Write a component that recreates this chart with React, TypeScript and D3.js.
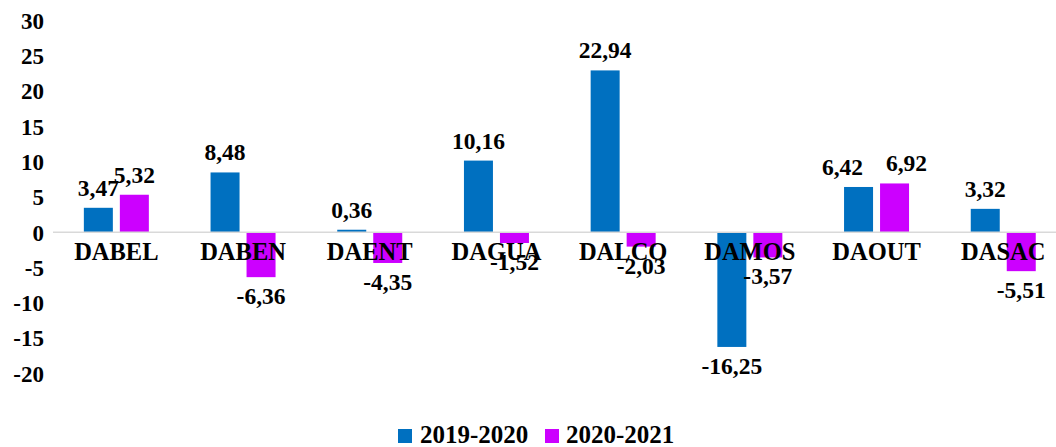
import React from 'react';
import * as d3 from 'd3';

const categories = ['DABEL', 'DABEN', 'DAENT', 'DAGUA', 'DALCO', 'DAMOS', 'DAOUT', 'DASAC'];
const series = ['2019-2020', '2020-2021'];
const values2019 = [3.47, 8.48, 0.36, 10.16, 22.94, -16.25, 6.42, 3.32];
const values2020 = [5.32, -6.36, -4.35, -1.52, -2.03, -3.57, 6.92, -5.51];
const yTicks = [-20, -15, -10, -5, 0, 5, 10, 15, 20, 25, 30];
const colors = ['#0070C0', '#CC00FF'];

const width = 1056;
const height = 447;
const font = '"Liberation Serif", "Times New Roman", serif';

export default function App() {
    const x = d3.scaleBand<string>()
        .domain(categories)
        .range([53, 1066.6])
        .paddingInner(0.487)
        .paddingOuter(0.2435);

    const xInner = d3.scaleBand<string>()
        .domain(series)
        .range([0, x.bandwidth()])
        .paddingInner(7 / 36);

    const y = d3.scaleLinear()
        .domain([-20, 30])
        .range([373.4, 20.6]);

    const allSeries = [values2019, values2020];
    const fmt = (v: number) => v.toFixed(2).replace('.', ',');

    // labels over DAOUT were pulled apart by hand in the original
    const nudge = (cat: string, si: number) => (cat === 'DAOUT' ? (si === 0 ? -16 : 12) : 0);

    return (
        <svg width={width} height={height} style={{ position: 'absolute', left: 0, top: 0, background: '#fff' }}
            fontFamily={font} fontWeight="bold">
            {/* y tick labels */}
            {yTicks.map(t => (
                <text key={t} x={44} y={y(t)} dy="0.36em" textAnchor="end" fontSize={23}>{t}</text>
            ))}

            {/* bars */}
            {allSeries.map((vals, si) => vals.map((v, i) => {
                const bx = (x(categories[i]) ?? 0) + (xInner(series[si]) ?? 0);
                return (
                    <rect key={`${si}-${i}`} x={bx} width={xInner.bandwidth()}
                        y={Math.min(y(v), y(0))} height={Math.abs(y(v) - y(0))} fill={colors[si]} />
                );
            }))}

            {/* zero line */}
            <line x1={53} x2={width} y1={y(0)} y2={y(0)} stroke="#d9d9d9" strokeWidth={1.5} />

            {/* category labels */}
            {categories.map(c => (
                <text key={c} x={(x(c) ?? 0) + x.bandwidth() / 2} y={260} textAnchor="middle" fontSize={24.5}>{c}</text>
            ))}

            {/* value labels */}
            {allSeries.map((vals, si) => vals.map((v, i) => {
                const cx = (x(categories[i]) ?? 0) + (xInner(series[si]) ?? 0) + xInner.bandwidth() / 2
                    + nudge(categories[i], si);
                const ty = v >= 0 ? y(v) - 12 : y(v) + 27;
                return (
                    <text key={`l${si}-${i}`} x={cx} y={ty} textAnchor="middle" fontSize={23.5}>{fmt(v)}</text>
                );
            }))}

            {/* legend */}
            <rect x={398} y={429} width={14} height={14} fill={colors[0]} />
            <text x={420} y={443} fontSize={25}>{series[0]}</text>
            <rect x={545} y={429} width={14} height={14} fill={colors[1]} />
            <text x={566} y={443} fontSize={25}>{series[1]}</text>
        </svg>
    );
}
